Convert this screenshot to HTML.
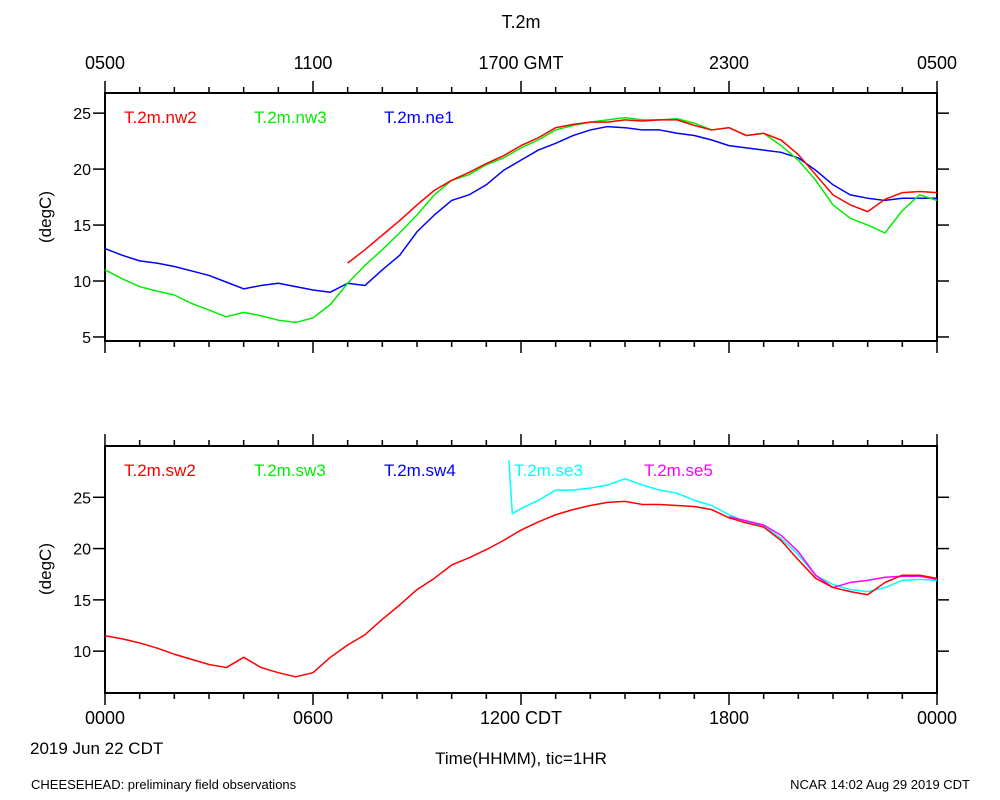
<!DOCTYPE html>
<html><head><meta charset="utf-8"><style>
body{margin:0;background:#fff}
svg{display:block;font-family:"Liberation Sans",Arial,sans-serif}
</style></head><body>
<svg id="c" width="1000" height="800" viewBox="0 0 1000 800">
<text x="521" y="28" font-size="18" text-anchor="middle">T.2m</text>
<text x="30" y="754" font-size="17">2019 Jun 22 CDT</text>
<text x="521" y="764" font-size="17" text-anchor="middle">Time(HHMM), tic=1HR</text>
<text x="31" y="789" font-size="13">CHEESEHEAD: preliminary field observations</text>
<text x="970" y="789" font-size="13" text-anchor="end">NCAR 14:02 Aug 29 2019 CDT</text>
<text transform="translate(51,217) rotate(-90)" font-size="17" text-anchor="middle">(degC)</text>
<text transform="translate(51,569) rotate(-90)" font-size="17" text-anchor="middle">(degC)</text>
</svg>
<script>
const hours=[0,0.5,1,1.5,2,2.5,3,3.5,4,4.5,5,5.5,6,6.5,7,7.5,8,8.5,9,9.5,10,10.5,11,11.5,12,12.5,13,13.5,14,14.5,15,15.5,16,16.5,17,17.5,18,18.5,19,19.5,20,20.5,21,21.5,22,22.5,23,23.5,24];
const ne1=[12.9,12.3,11.8,11.6,11.3,10.9,10.5,9.9,9.3,9.6,9.8,9.5,9.2,9.0,9.8,9.6,11.0,12.3,14.4,15.9,17.2,17.7,18.6,19.9,20.8,21.7,22.3,23.0,23.5,23.8,23.7,23.5,23.5,23.2,23.0,22.6,22.1,21.9,21.7,21.5,21.0,19.9,18.6,17.7,17.4,17.2,17.4,17.4,17.4];
const nw3=[11.0,10.2,9.5,9.1,8.75,8.0,7.4,6.8,7.2,6.9,6.5,6.3,6.7,7.9,9.8,11.4,12.8,14.3,15.9,17.7,19.0,19.5,20.4,21.0,21.9,22.6,23.5,23.9,24.2,24.4,24.6,24.4,24.4,24.5,24.1,23.5,23.7,23.0,23.2,22.1,20.8,19.0,16.8,15.6,15.0,14.3,16.3,17.7,17.2];
const nw2Hours=[7,7.5,8,8.5,9,9.5,10,10.5,11,11.5,12,12.5,13,13.5,14,14.5,15,15.5,16,16.5,17,17.5,18,18.5,19,19.5,20,20.5,21,21.5,22,22.5,23,23.5,24];
const nw2=[11.6,12.8,14.1,15.4,16.8,18.1,19.0,19.7,20.5,21.2,22.1,22.8,23.7,24.0,24.2,24.2,24.4,24.3,24.4,24.4,23.9,23.5,23.7,23.0,23.2,22.6,21.3,19.5,17.7,16.8,16.2,17.3,17.9,18.0,17.9];
const sw2=[11.5,11.2,10.8,10.3,9.7,9.2,8.7,8.4,9.4,8.4,7.9,7.5,7.9,9.4,10.6,11.6,13.1,14.5,16.0,17.1,18.4,19.1,19.9,20.8,21.8,22.6,23.3,23.8,24.2,24.5,24.6,24.3,24.3,24.2,24.1,23.8,23.0,22.5,22.1,20.8,18.9,17.1,16.2,15.8,15.5,16.7,17.4,17.4,17.1];
const se3Hours=[11.65,11.75,12,12.5,13,13.5,14,14.5,15,15.5,16,16.5,17,17.5,18,18.5,19,19.5,20,20.5,21,21.5,22,22.5,23,23.5,24];
const se3=[28.6,23.4,23.9,24.7,25.7,25.7,25.9,26.2,26.8,26.2,25.7,25.4,24.7,24.2,23.3,22.6,22.2,21.0,19.4,17.4,16.5,16.0,15.8,16.2,16.9,17.0,16.9];
const se5Hours=[18,18.5,19,19.5,20,20.5,21,21.5,22,22.5,23,23.5,24];
const se5=[23.1,22.7,22.3,21.3,19.7,17.4,16.2,16.7,16.9,17.2,17.3,17.3,17.0];
const topTicks=[5,10,15,20,25];
const botTicks=[10,15,20,25];
const gmtLabels=["0500","1100","1700 GMT","2300","0500"];
const cdtLabels=["0000","0600","1200 CDT","1800","0000"];

const NS="http://www.w3.org/2000/svg",svg=document.getElementById('c');
const X0=105,X1=937;
const xs=t=>X0+(X1-X0)*t/24;
function mk(tag,at,parent){const e=document.createElementNS(NS,tag);for(const k in at)e.setAttribute(k,at[k]);(parent||svg).appendChild(e);return e;}
function panel(name,top,bot,vmin,vmax,ticks,legend,series,topLabels){
  const ys=v=>bot-(v-vmin)/(vmax-vmin)*(bot-top);
  const g=mk('g',{});
  
  
  const f=mk('rect',{x:X0,y:top,width:X1-X0,height:bot-top,fill:'none',stroke:'#000','stroke-width':2},g);
  
  
  for(let h=0;h<=24;h++){
    const L=h%6==0?12:6,x=xs(h);
    const t1=mk('line',{x1:x,x2:x,y1:top,y2:top-L,stroke:'#000','stroke-width':1.5},g);
    
    
    const t2=mk('line',{x1:x,x2:x,y1:bot,y2:bot+L,stroke:'#000','stroke-width':1.5},g);
    
    
  }
  ticks.forEach(v=>{
    const y=ys(v);
    const a=mk('line',{x1:X0,x2:X0-12,y1:y,y2:y,stroke:'#000','stroke-width':1.5},g);
    
    
    const b=mk('line',{x1:X1,x2:X1+12,y1:y,y2:y,stroke:'#000','stroke-width':1.5},g);
    
    
    const t=mk('text',{x:X0-14,y:y+6,'font-size':16,'text-anchor':'end'},g);
    t.textContent=v;
    
    
  });
  topLabels.forEach((s,i)=>{
    const ty=top<200?top-24:bot+31;
    const t=mk('text',{x:xs(i*6),y:ty,'font-size':18,'text-anchor':'middle'},g);
    t.textContent=s;
    
    
  });
  series.forEach(s=>{
    const p=mk('polyline',{points:s.h.map((h,i)=>xs(h)+','+ys(s.v[i])).join(' '),fill:'none',stroke:s.c,'stroke-width':1.5,'stroke-linejoin':'round'},g);
    
    
  });
  legend.forEach(l=>{
    const t=mk('text',{x:l.x,y:top+30,'font-size':17,fill:l.c},g);
    t.textContent=l.t;
    
    
  });
}
panel('top-panel',93,341,4.64,26.8,topTicks,
 [{t:'T.2m.nw2',c:'#ff0000',x:124},{t:'T.2m.nw3',c:'#00ee00',x:254},{t:'T.2m.ne1',c:'#0000ff',x:384}],
 [{n:'ne1',h:hours,v:ne1,c:'#0000ff'},{n:'nw3',h:hours,v:nw3,c:'#00ee00'},{n:'nw2',h:nw2Hours,v:nw2,c:'#ff0000'}],gmtLabels);
panel('bottom-panel',446,693,5.92,30.0,botTicks,
 [{t:'T.2m.sw2',c:'#ff0000',x:124},{t:'T.2m.sw3',c:'#00ee00',x:254},{t:'T.2m.sw4',c:'#0000ff',x:384},{t:'T.2m.se3',c:'#00ffff',x:514},{t:'T.2m.se5',c:'#ff00ff',x:644}],
 [{n:'se3',h:se3Hours,v:se3,c:'#00ffff'},{n:'se5',h:se5Hours,v:se5,c:'#ff00ff'},{n:'sw2',h:hours,v:sw2,c:'#ff0000'}],cdtLabels);
</script>
</body></html>
